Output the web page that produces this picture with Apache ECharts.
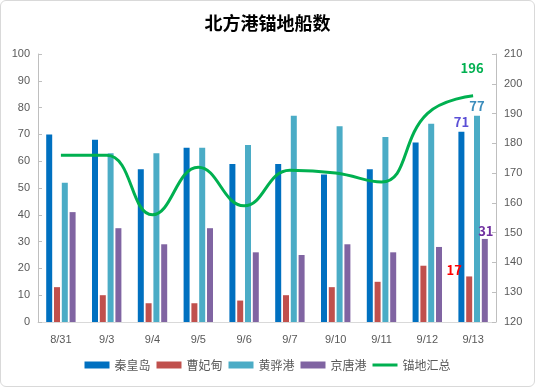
<!DOCTYPE html>
<html><head><meta charset="utf-8">
<script src="https://cdn.jsdelivr.net/npm/echarts@6/dist/echarts.min.js"></script>
<style>
html,body{margin:0;padding:0;background:#fff;}
#c{position:absolute;left:0;top:0;width:533px;height:385px;border:1px solid #d9d9d9;border-radius:6px;}
</style></head><body>
<div id="c"></div>
<script>
const categories = ['8/31','9/3','9/4','9/5','9/6','9/7','9/10','9/11','9/12','9/13'];
const qinhuangdao = [70,68,57,65,59,59,55,57,67,71];
const caofeidian = [13,10,7,7,8,10,13,15,21,17];
const huanghua = [52,63,63,65,66,77,73,69,74,77];
const jingtang = [41,35,29,35,26,25,29,26,28,31];
const total = [176,176,156,172,159,171,170,167,190,196];
const seriesNames = ['秦皇岛','曹妃甸','黄骅港','京唐港','锚地汇总'];

const chart = echarts.init(document.getElementById('c'));
const last = categories.length - 1;
const labelFont = {fontWeight:'bold', fontSize:13, fontFamily:'Microsoft YaHei, Noto Sans CJK SC, sans-serif'};
function lastLabel(arr, opts){
  return arr.map((v,i)=> i===last ? {value:v, label:Object.assign({show:true}, labelFont, opts)} : v);
}
const axisLabel = {color:'#595959', fontSize:11, fontFamily:'Liberation Sans, Arial, sans-serif'};
const barCommon = {type:'bar', barWidth:6, barGap:'30%'};
chart.setOption({
  animation:false,
  title:{text:'北方港锚地船数', left:'center', top:8,
    textStyle:{fontSize:18, fontWeight:'bold', color:'#000', fontFamily:'Noto Sans CJK SC, sans-serif'}},
  grid:{left:37, right:38, top:53, bottom:64},
  legend:{bottom:10, itemWidth:25, itemHeight:7, itemGap:6, symbolKeepAspect:true,
    textStyle:{color:'#595959', fontSize:12, fontFamily:'Noto Sans CJK SC, sans-serif'},
    data:[{name:seriesNames[0],icon:'rect'},{name:seriesNames[1],icon:'rect'},{name:seriesNames[2],icon:'rect'},{name:seriesNames[3],icon:'rect'},
      {name:seriesNames[4], icon:'path://M0,0 L25,0 L25,3 L0,3 Z'}]},
  xAxis:{type:'category', data:categories,
    axisLine:{lineStyle:{color:'#d9d9d9'}}, axisTick:{show:false},
    axisLabel:Object.assign({margin:12}, axisLabel)},
  yAxis:[
    {type:'value', min:0, max:100, interval:10, splitLine:{show:false},
     axisLine:{show:true, lineStyle:{color:'#bfbfbf'}}, axisTick:{show:true, inside:true, length:4, lineStyle:{color:'#bfbfbf'}},
     axisLabel:axisLabel},
    {type:'value', min:120, max:210, interval:10, splitLine:{show:false},
     axisLine:{show:true, lineStyle:{color:'#bfbfbf'}}, axisTick:{show:true, inside:true, length:4, lineStyle:{color:'#bfbfbf'}},
     axisLabel:axisLabel}
  ],
  series:[
    Object.assign({name:seriesNames[0], itemStyle:{color:'#0070C0'},
      data:lastLabel(qinhuangdao,{position:'top', color:'#5B4FD6', distance:3})}, barCommon),
    Object.assign({name:seriesNames[1], itemStyle:{color:'#C0504D'},
      data:lastLabel(caofeidian,{position:'top', color:'#FF0000', offset:[-15,5]})}, barCommon),
    Object.assign({name:seriesNames[2], itemStyle:{color:'#4BACC6'},
      data:lastLabel(huanghua,{position:'top', color:'#3C8DBC', distance:3})}, barCommon),
    Object.assign({name:seriesNames[3], itemStyle:{color:'#8064A2'},
      data:lastLabel(jingtang,{position:'top', color:'#7030A0', offset:[1,0], distance:1})}, barCommon),
    {name:seriesNames[4], type:'line', yAxisIndex:1, smooth:0.45, symbol:'none',
      lineStyle:{color:'#00B050', width:3}, itemStyle:{color:'#00B050'},
      data:total,
      markPoint:{symbol:'circle', symbolSize:0, silent:true,
        data:[{coord:[last, total[last]], value:total[last],
          label:Object.assign({show:true, position:'top', color:'#00B050', offset:[-1,-16]}, labelFont)}]}
    }
  ]
});
</script>
</body></html>
